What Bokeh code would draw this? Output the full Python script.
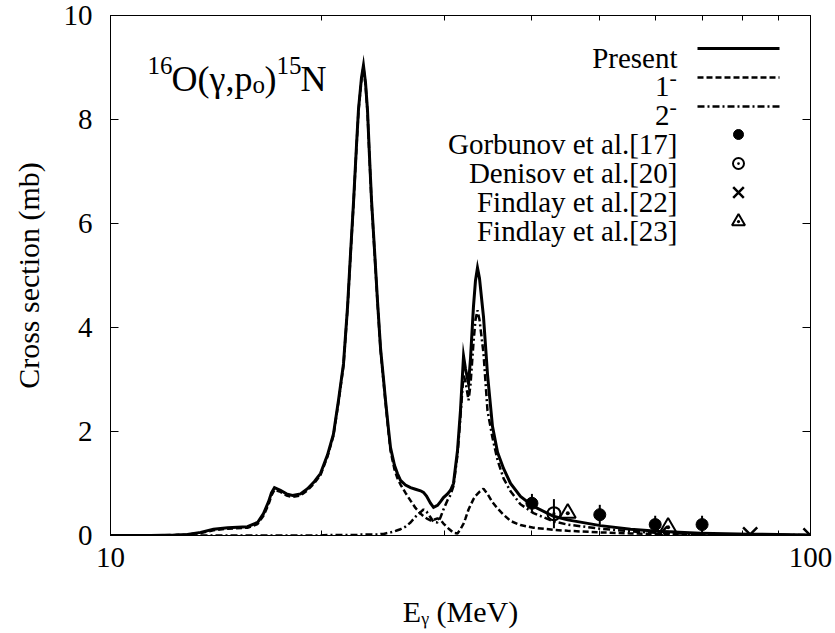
from bokeh.plotting import figure
from bokeh.models import (Range1d, FixedTicker, BasicTickFormatter, LogAxis,
                          LinearAxis, Label)
from bokeh.embed import file_html
from bokeh.resources import INLINE

# ---------------- data ----------------
energy = [10.00, 11.41, 12.38, 12.88, 13.45, 14.03, 14.70, 15.69, 16.22, 16.54,
          16.82, 16.98, 17.15, 17.49, 17.84, 18.20, 18.68, 19.12, 19.56, 19.95,
          20.42, 20.82, 21.17, 21.52, 21.81, 22.02, 22.24, 22.46, 22.61, 22.83,
          22.98, 23.14, 23.29, 23.44, 23.60, 23.83, 24.07, 24.31, 24.55, 24.71,
          24.95, 25.12, 25.45, 25.70, 25.96, 26.39, 26.83, 27.27, 27.73, 28.00,
          28.28, 28.65, 28.94, 29.32, 29.61, 29.90, 30.30, 30.60, 30.90, 31.31,
          31.62, 31.94, 32.15, 32.47, 32.68, 33.00, 33.22, 33.44, 33.66, 34.11,
          34.56, 35.13, 35.72, 36.43, 37.28, 38.52, 40.21, 42.95, 44.98, 50.12,
          55.34, 60.46, 69.65, 82.08, 100.0]

present = [0.00, 0.00, 0.01, 0.02, 0.06, 0.12, 0.15, 0.17, 0.25, 0.42,
           0.65, 0.82, 0.92, 0.87, 0.80, 0.77, 0.80, 0.90, 1.04, 1.19,
           1.55, 1.95, 2.60, 3.30, 4.40, 5.40, 6.40, 7.50, 8.20, 8.80,
           9.04, 8.70, 8.17, 7.30, 6.44, 5.50, 4.50, 3.60, 3.00, 2.60,
           2.05, 1.69, 1.35, 1.19, 1.06, 0.97, 0.92, 0.89, 0.86, 0.83,
           0.76, 0.62, 0.54, 0.58, 0.65, 0.73, 0.80, 0.87, 1.00, 1.63,
           2.40, 3.45, 3.20, 2.92, 3.40, 4.40, 4.90, 5.15, 4.95, 4.20,
           3.10, 2.10, 1.60, 1.29, 1.00, 0.75, 0.56, 0.37, 0.30, 0.19,
           0.12, 0.08, 0.045, 0.025, 0.012]

one_minus = [0.00, 0.00, 0.01, 0.02, 0.05, 0.10, 0.13, 0.15, 0.22, 0.38,
             0.60, 0.77, 0.88, 0.84, 0.77, 0.74, 0.77, 0.87, 1.01, 1.16,
             1.52, 1.92, 2.57, 3.27, 4.37, 5.37, 6.37, 7.47, 8.17, 8.77,
             9.00, 8.67, 8.14, 7.27, 6.40, 5.47, 4.47, 3.57, 2.96, 2.56,
             2.00, 1.63, 1.27, 1.10, 0.98, 0.82, 0.67, 0.53, 0.42, 0.37,
             0.33, 0.29, 0.30, 0.33, 0.30, 0.23, 0.15, 0.10, 0.05, 0.04,
             0.12, 0.23, 0.33, 0.50, 0.58, 0.70, 0.76, 0.80, 0.84, 0.90,
             0.80, 0.64, 0.52, 0.40, 0.28, 0.20, 0.15, 0.11, 0.09, 0.06,
             0.04, 0.03, 0.02, 0.01, 0.005]

two_minus = [0.00, 0.00, 0.00, 0.00, 0.00, 0.00, 0.00, 0.00, 0.00, 0.00,
             0.00, 0.00, 0.00, 0.00, 0.00, 0.00, 0.00, 0.00, 0.00, 0.00,
             0.01, 0.01, 0.01, 0.01, 0.01, 0.01, 0.01, 0.01, 0.01, 0.02,
             0.02, 0.02, 0.02, 0.02, 0.02, 0.02, 0.02, 0.03, 0.03, 0.04,
             0.05, 0.06, 0.08, 0.10, 0.12, 0.17, 0.25, 0.36, 0.45, 0.50,
             0.46, 0.35, 0.26, 0.25, 0.35, 0.50, 0.68, 0.78, 0.95, 1.55,
             2.30, 3.10, 2.95, 2.60, 2.90, 3.70, 4.15, 4.33, 4.15, 3.50,
             2.40, 1.88, 1.45, 1.10, 0.85, 0.60, 0.43, 0.27, 0.21, 0.13,
             0.08, 0.05, 0.03, 0.015, 0.008]

gorbunov_e = [40.0, 50.0, 60.0, 70.0]
gorbunov_s = [0.62, 0.40, 0.21, 0.21]
gorbunov_err = [0.18, 0.19, 0.17, 0.17]

denisov_e = [43.0]
denisov_s = [0.42]
denisov_err = [0.28]

findlay22_e = [61.0, 82.0, 100.0]
findlay22_s = [0.04, 0.02, 0.0]

findlay23_e = [45.0, 62.6]
findlay23_s = [0.43, 0.16]

x_ticks = [10, 100]
x_minor_ticks = [20, 30, 40, 50, 60, 70, 80, 90]
y_ticks = [0, 2, 4, 6, 8, 10]

legend_labels = ["Present", "1", "2", "Gorbunov et al.[17]", "Denisov et al.[20]",
                 "Findlay et al.[22]", "Findlay et al.[23]"]

# ---------------- layout ----------------
W, H = 835, 633
FL, FR, FT, FB = 110, 810, 15, 535          # frame edges in canvas pixels
FONT = "Liberation Serif"


def rx(px):   # canvas pixel -> energy (log axis), for annotation placement
    return 10 ** (1 + (px - FL) / (FR - FL))


def ry(py):   # canvas pixel -> cross section, for annotation placement
    return 10.0 * (FB - py) / (FB - FT)


p = figure(width=W, height=H, x_axis_type="log",
           x_range=Range1d(10, 100), y_range=Range1d(0, 10),
           output_backend="svg", toolbar_location=None, title=None,
           min_border_left=FL, min_border_right=W - FR,
           min_border_top=FT, min_border_bottom=H - FB)
p.background_fill_color = "white"
p.border_fill_color = "white"
p.outline_line_color = "black"
p.outline_line_width = 1
p.xgrid.visible = False
p.ygrid.visible = False


def style_axis(ax, labels=True):
    ax.axis_line_color = "black"
    ax.major_tick_line_color = "black"
    ax.minor_tick_line_color = "black"
    ax.major_tick_out = 0
    ax.minor_tick_out = 0
    ax.major_label_text_font = FONT
    ax.major_label_text_color = "black"
    if labels:
        ax.major_label_text_font_size = "29px"
    else:
        ax.major_label_text_font_size = "0px"
        ax.major_label_text_color = None
        ax.major_label_standoff = 0


xt = FixedTicker(ticks=x_ticks, minor_ticks=x_minor_ticks)
yt = FixedTicker(ticks=y_ticks, minor_ticks=[])

xa = p.xaxis[0]
xa.ticker = xt
xa.formatter = BasicTickFormatter()
style_axis(xa)
xa.major_tick_in = 10
xa.minor_tick_in = 5
xa.major_label_standoff = 12
xa.axis_label = "E\u1d67 (MeV)"
xa.axis_label_text_font = FONT
xa.axis_label_text_font_size = "30px"
xa.axis_label_text_font_style = "normal"
xa.axis_label_text_color = "black"
xa.axis_label_standoff = 25

ya = p.yaxis[0]
ya.ticker = yt
style_axis(ya)
ya.major_tick_in = 8
ya.minor_tick_line_color = None
ya.major_label_standoff = 18
ya.axis_label = "Cross section (mb)"
ya.axis_label_text_font = FONT
ya.axis_label_text_font_size = "30px"
ya.axis_label_text_font_style = "normal"
ya.axis_label_text_color = "black"
ya.axis_label_standoff = 16

top = LogAxis(ticker=xt, formatter=BasicTickFormatter())
style_axis(top, labels=False)
top.major_tick_in = 10
top.minor_tick_in = 5
p.add_layout(top, "above")

right = LinearAxis(ticker=yt)
style_axis(right, labels=False)
right.major_tick_in = 8
right.minor_tick_line_color = None
p.add_layout(right, "right")

# ---------------- curves ----------------
p.line(energy, two_minus, line_color="black", line_width=2.5, line_dash="7 3 2 3")
p.line(energy, one_minus, line_color="black", line_width=2.5, line_dash="6 3")
p.line(energy, present, line_color="black", line_width=3, line_join="miter")

# ---------------- experimental points ----------------
p.segment(x0=gorbunov_e, y0=[s - e for s, e in zip(gorbunov_s, gorbunov_err)],
          x1=gorbunov_e, y1=[s + e for s, e in zip(gorbunov_s, gorbunov_err)],
          line_color="black", line_width=2)
p.segment(x0=denisov_e, y0=[s - e for s, e in zip(denisov_s, denisov_err)],
          x1=denisov_e, y1=[s + e for s, e in zip(denisov_s, denisov_err)],
          line_color="black", line_width=2)
p.scatter(gorbunov_e, gorbunov_s, marker="circle", size=12,
          fill_color="black", line_color="black")
p.scatter(denisov_e, denisov_s, marker="circle_dot", size=13,
          fill_color=None, line_color="black", line_width=2)
p.scatter(findlay22_e, findlay22_s, marker="x", size=20,
          line_color="black", line_width=2.5)
p.scatter(findlay23_e, findlay23_s, marker="triangle_dot", size=16,
          fill_color=None, line_color="black", line_width=2)


# ---------------- text helpers ----------------
def text(t, x, y, size, align="left"):
    p.add_layout(Label(x=x, y=y, text=t,
                       text_font=FONT, text_font_size=f"{size}px",
                       text_align=align, text_baseline="alphabetic",
                       text_color="black"))


# reaction title  16O(γ,po)15N
text("16", rx(147), ry(65), 25)
text("O(\u03b3,p", rx(171), ry(78), 36)
text("o", rx(252), ry(84), 25)
text(")", rx(264), ry(78), 36)
text("15", rx(276), ry(65), 25)
text("N", rx(300), ry(78), 36)

# legend (label on the left, key on the right)
base = [57, 86, 115, 143, 172, 201, 230]
TX, KX0, KX1, MX = 677, 697, 779, 738
for i, lab in enumerate(legend_labels):
    if i in (1, 2):
        text(lab, rx(TX - 8), ry(base[i]), 29, align="right")
        text("-", rx(TX - 8), ry(base[i] - 9), 22)
    else:
        text(lab, rx(TX), ry(base[i]), 29, align="right")

key_y = [ry(b - 9) for b in base]
p.line([rx(KX0), rx(KX1)], [key_y[0]] * 2, line_color="black", line_width=3)
p.line([rx(KX0), rx(KX1)], [key_y[1]] * 2, line_color="black", line_width=2.5,
       line_dash="6 3")
p.line([rx(KX0), rx(KX1)], [key_y[2]] * 2, line_color="black", line_width=2.5,
       line_dash="7 3 2 3")
p.scatter([rx(MX)], [key_y[3]], marker="circle", size=10,
          fill_color="black", line_color="black")
p.scatter([rx(MX)], [key_y[4]], marker="circle_dot", size=11,
          fill_color=None, line_color="black", line_width=2)
p.scatter([rx(MX)], [key_y[5]], marker="x", size=15,
          line_color="black", line_width=2.5)
p.scatter([rx(MX)], [key_y[6]], marker="triangle_dot", size=13,
          fill_color=None, line_color="black", line_width=2)

open("out.html", "w").write(file_html(p, INLINE))
